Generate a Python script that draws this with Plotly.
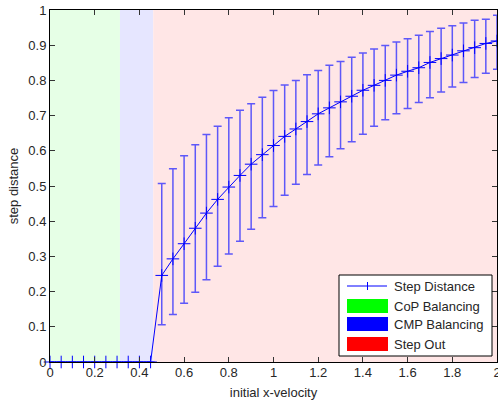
import plotly.graph_objects as go

# ---------------- data ----------------
velocity = [0.00, 0.05, 0.10, 0.15, 0.20, 0.25, 0.30, 0.35, 0.40, 0.45,
            0.50, 0.55, 0.60, 0.65, 0.70, 0.75, 0.80, 0.85, 0.90, 0.95,
            1.00, 1.05, 1.10, 1.15, 1.20, 1.25, 1.30, 1.35, 1.40, 1.45,
            1.50, 1.55, 1.60, 1.65, 1.70, 1.75, 1.80, 1.85, 1.90, 1.95, 2.00]

step_mean = [0, 0, 0, 0, 0, 0, 0, 0, 0, 0,
             0.246, 0.293, 0.336, 0.380, 0.423, 0.462, 0.497, 0.530, 0.562, 0.589,
             0.615, 0.641, 0.662, 0.683, 0.705, 0.722, 0.739, 0.755, 0.772, 0.786,
             0.800, 0.815, 0.826, 0.836, 0.851, 0.862, 0.872, 0.884, 0.893, 0.905, 0.912]

step_upper = [0, 0, 0, 0, 0, 0, 0, 0, 0, 0,
              0.507, 0.549, 0.586, 0.617, 0.646, 0.670, 0.694, 0.715, 0.734, 0.752,
              0.771, 0.787, 0.800, 0.816, 0.828, 0.843, 0.854, 0.866, 0.878, 0.889,
              0.899, 0.909, 0.918, 0.928, 0.939, 0.948, 0.955, 0.963, 0.971, 0.974, 0.985]

step_lower = [0, 0, 0, 0, 0, 0, 0, 0, 0, 0,
              0.106, 0.135, 0.167, 0.198, 0.234, 0.272, 0.307, 0.343, 0.377, 0.410,
              0.442, 0.474, 0.505, 0.533, 0.560, 0.583, 0.606, 0.626, 0.647, 0.670,
              0.688, 0.705, 0.720, 0.737, 0.751, 0.767, 0.781, 0.794, 0.808, 0.820, 0.832]

# regime boundaries along initial x-velocity
region_names = ["CoP Balancing", "CMP Balancing", "Step Out"]
region_edges = [0.0, 0.313, 0.462, 2.0]
region_fill = ["rgb(230,255,230)", "rgb(230,230,255)", "rgb(255,230,230)"]
region_swatch = ["rgb(0,255,0)", "rgb(0,0,255)", "rgb(255,0,0)"]

x_ticks = [0, 0.2, 0.4, 0.6, 0.8, 1, 1.2, 1.4, 1.6, 1.8, 2]
y_ticks = [0, 0.1, 0.2, 0.3, 0.4, 0.5, 0.6, 0.7, 0.8, 0.9, 1]

# ---------------- figure ----------------
W, H = 498, 404
ML, MR, MT, MB = 50, 1, 10, 42
PW, PH = W - ML - MR, H - MT - MB
FONT = "Liberation Sans, Arial, sans-serif"
TXT = "#262626"

err_plus = [u - m for u, m in zip(step_upper, step_mean)]
err_minus = [m - l for m, l in zip(step_mean, step_lower)]

fig = go.Figure()
fig.add_trace(go.Scatter(
    x=velocity, y=step_mean, mode="lines+markers", name="Step Distance",
    line=dict(color="rgb(0,0,255)", width=1),
    marker=dict(symbol="cross-thin", size=9,
                line=dict(color="rgb(0,0,255)", width=1)),
    error_y=dict(type="data", symmetric=False, array=err_plus,
                 arrayminus=err_minus, color="rgba(40,40,255,0.75)",
                 thickness=1.5, width=4),
    cliponaxis=False, showlegend=False,
))

shapes = []
for i in range(len(region_names)):
    shapes.append(dict(type="rect", xref="x", yref="paper", layer="below",
                       x0=region_edges[i], x1=region_edges[i + 1], y0=0, y1=1,
                       fillcolor=region_fill[i], line=dict(width=0)))


def px(x, y):
    return (x - ML) / PW, (MT + PH - y) / PH


annotations = []
# legend box
bx0, by0 = px(339, 356)
bx1, by1 = px(492, 275)
shapes.append(dict(type="rect", xref="paper", yref="paper", x0=bx0, y0=by0,
                   x1=bx1, y1=by1, fillcolor="white",
                   line=dict(color="black", width=1)))
# Step Distance entry
lx0, ly = px(347, 286)
lx1, _ = px(387, 286)
mx, my0 = px(367.5, 282)
_, my1 = px(367.5, 290)
shapes.append(dict(type="line", xref="paper", yref="paper", x0=lx0, x1=lx1,
                   y0=ly, y1=ly, line=dict(color="rgb(0,0,255)", width=1)))
shapes.append(dict(type="line", xref="paper", yref="paper", x0=mx, x1=mx,
                   y0=my0, y1=my1, line=dict(color="rgb(0,0,255)", width=1)))
tx, _ = px(392, 0)
annotations.append(dict(xref="paper", yref="paper", x=tx, y=ly, text="Step Distance",
                        showarrow=False, xanchor="left", yanchor="middle",
                        font=dict(family=FONT, size=13, color=TXT)))
sw_tops = [299, 317, 337]
for name, col, top in zip(region_names, region_swatch, sw_tops):
    sx0, sy0 = px(347, top + 14)
    sx1, sy1 = px(388, top)
    shapes.append(dict(type="rect", xref="paper", yref="paper", x0=sx0, x1=sx1,
                       y0=sy0, y1=sy1, fillcolor=col, line=dict(width=0)))
    annotations.append(dict(xref="paper", yref="paper", x=tx, y=(sy0 + sy1) / 2,
                            text=name, showarrow=False, xanchor="left",
                            yanchor="middle",
                            font=dict(family=FONT, size=13, color=TXT)))

axis_common = dict(showline=True, linecolor="black", linewidth=1, mirror="ticks",
                   ticks="inside", ticklen=5, tickcolor="#333", showgrid=False,
                   zeroline=False, ticklabeloverflow="allow", automargin=False,
                   tickfont=dict(family=FONT, size=13, color=TXT))

fig.update_layout(
    width=W, height=H,
    margin=dict(l=ML, r=MR, t=MT, b=MB, autoexpand=False),
    paper_bgcolor="white", plot_bgcolor="white",
    shapes=shapes, annotations=annotations,
    xaxis=dict(range=[0, 2], tickvals=x_ticks, ticklabelstandoff=-2,
               title=dict(text="initial x-velocity", standoff=9,
                          font=dict(family=FONT, size=13, color=TXT)),
               **axis_common),
    yaxis=dict(range=[0, 1], tickvals=y_ticks,
               title=dict(text="step distance", standoff=6,
                          font=dict(family=FONT, size=13, color=TXT)),
               **axis_common),
)

fig.write_html("out.html")
